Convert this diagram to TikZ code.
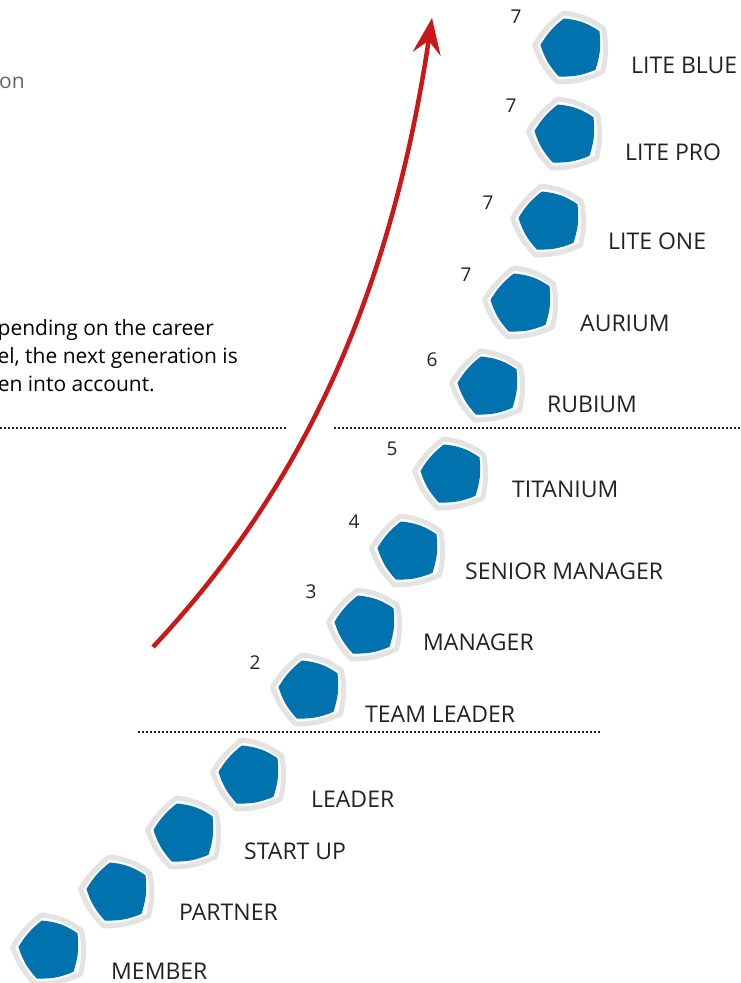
\documentclass[tikz,border=0pt]{standalone}
\usepackage{fontspec}
\setmainfont{Open Sans}
\usetikzlibrary{arrows.meta}
\definecolor{badgeblue}{HTML}{0073AE}
\definecolor{badgegray}{HTML}{E3E3E3}
\definecolor{arrowred}{HTML}{CC1719}
\definecolor{textdark}{HTML}{222222}
\tikzset{
	badge/.pic={
		\draw[badgegray, line width=5pt, line join=round] (-35.5,0) to[bend left=10] (-6.5,-32) to[bend left=14] (33.5,-16.5) to[bend left=12] (32.5,27) to[bend left=12] (-12.5,37) to[bend left=12] cycle;
		\filldraw[badgeblue, line width=1pt, line join=round] (-29,0) to[bend left=10] (-6,-26) to[bend left=14] (29,-13.5) to[bend left=12] (25,24.5) to[bend left=12] (-11,31) to[bend left=12] cycle;
	}
}
\begin{document}
\begin{tikzpicture}[x=1pt, y=-1pt]
		\tikzset{lbl/.style={anchor=base west, font=\fontsize{23}{23}\selectfont, text=textdark, inner sep=0pt}};
		\tikzset{num/.style={font=\fontsize{19}{19}\selectfont, text=textdark, inner sep=0pt}};
		\tikzset{note/.style={anchor=base east, font=\fontsize{21}{21}\selectfont, text=black, inner sep=0pt}};
		\tikzset{sep/.style={line width=2pt, dotted, textdark}};

		\useasboundingbox (0, 0) rectangle (740, 983);

		\pic (member) at (48, 947) {badge};
		\pic (partner) at (116, 889) {badge};
		\pic (startup) at (183, 830) {badge};
		\pic (leader) at (248, 772) {badge};
		\pic (teamleader) at (308, 687) {badge};
		\pic (manager) at (364, 622) {badge};
		\pic (senior) at (407, 548) {badge};
		\pic (titanium) at (450, 471) {badge};
		\pic (rubium) at (487, 383) {badge};
		\pic (aurium) at (520, 300) {badge};
		\pic (liteone) at (548, 218) {badge};
		\pic (litepro) at (564, 131) {badge};
		\pic (liteblue) at (570, 45) {badge};

		\node[lbl] (lmember) at (111, 979) {MEMBER};
		\node[lbl] (lpartner) at (179, 920) {PARTNER};
		\node[lbl] (lstartup) at (244, 859) {START UP};
		\node[lbl] (lleader) at (311, 807) {LEADER};
		\node[lbl] (lteamleader) at (365, 722) {TEAM LEADER};
		\node[lbl] (lmanager) at (423, 650) {MANAGER};
		\node[lbl] (lsenior) at (465, 579) {SENIOR MANAGER};
		\node[lbl] (ltitanium) at (512, 497) {TITANIUM};
		\node[lbl] (lrubium) at (547, 412) {RUBIUM};
		\node[lbl] (laurium) at (580, 331) {AURIUM};
		\node[lbl] (lliteone) at (608, 249) {LITE ONE};
		\node[lbl] (llitepro) at (625, 160) {LITE PRO};
		\node[lbl] (lliteblue) at (631, 73) {LITE BLUE};

		\node[num] (n2) at (255, 663) {2};
		\node[num] (n3) at (311, 592) {3};
		\node[num] (n4) at (354, 522) {4};
		\node[num] (n5) at (392, 449) {5};
		\node[num] (n6) at (432, 360) {6};
		\node[num] (n7a) at (466, 275) {7};
		\node[num] (n7b) at (488, 203) {7};
		\node[num] (n7c) at (511, 106) {7};
		\node[num] (n7d) at (516, 17) {7};

		\node[note, text=textdark!70] (on) at (25, 88) {on};
		\node[note] (line1) at (214, 335) {pending on the career};
		\node[note] (line2) at (238, 363) {el, the next generation is};
		\node[note] (line3) at (155, 391) {en into account.};

		\coordinate (sep1a) at (0, 428);
		\coordinate (sep1b) at (287, 428);
		\coordinate (sep2a) at (334, 428);
		\coordinate (sep2b) at (740, 428);
		\coordinate (sep3a) at (138, 732);
		\coordinate (sep3b) at (600, 732);
		\draw[sep] (sep1a) to (sep1b);
		\draw[sep] (sep2a) to (sep2b);
		\draw[sep] (sep3a) to (sep3b);

		\coordinate (start) at (153, 647);
		\coordinate (tip) at (432, 18);
		\draw[arrowred, line width=4.5pt, -{Stealth[length=36pt, width=28pt, inset=13pt]}] (start) .. controls (300, 490) and (390, 300) .. (tip);
	\end{tikzpicture}
\end{document}
